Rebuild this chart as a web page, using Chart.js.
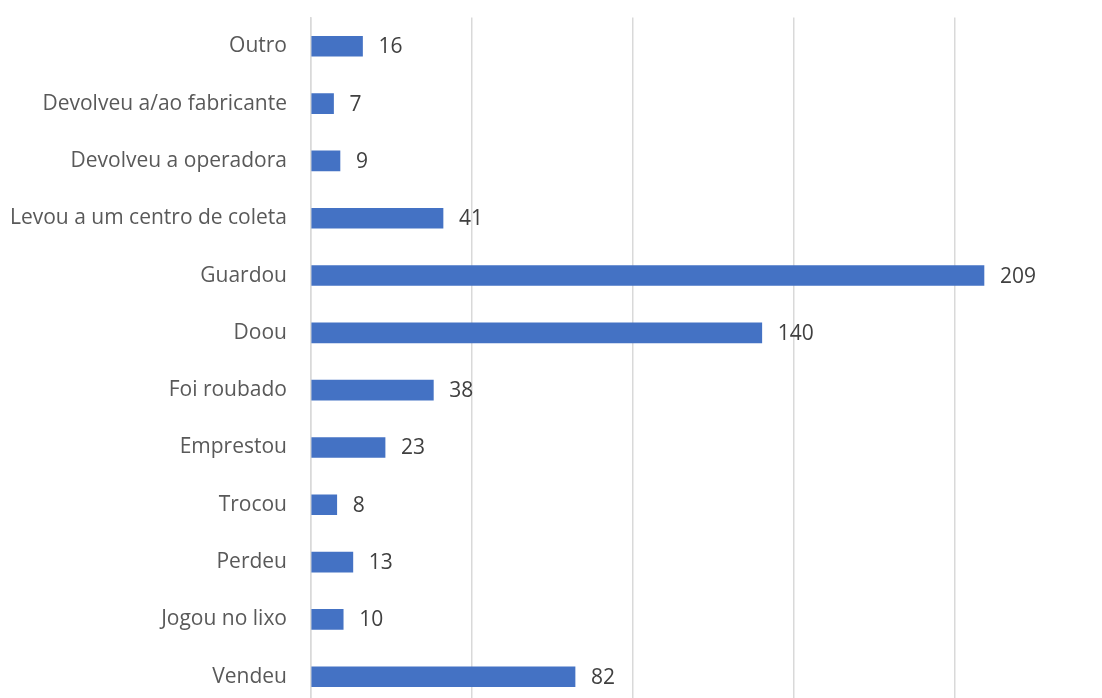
<!DOCTYPE html>
<html>
<head>
<meta charset="utf-8">
<script src="https://cdn.jsdelivr.net/npm/chart.js@4.4.0/dist/chart.umd.min.js"></script>
<style>
  html, body { margin: 0; padding: 0; background: #fff; overflow: hidden; }
  #wrap { width: 1102px; height: 698px; overflow: hidden; position: relative; }
  #box { position: absolute; left: 0; top: -19px; width: 1120px; height: 761px; }
</style>
</head>
<body>
<div id="wrap"><div id="box"><canvas id="chart"></canvas></div></div>
<script>
// Destinos do aparelho antigo (respostas)
const categorias = ['Outro', 'Devolveu a/ao fabricante', 'Devolveu a operadora', 'Levou a um centro de coleta',
  'Guardou', 'Doou', 'Foi roubado', 'Emprestou', 'Trocou', 'Perdeu', 'Jogou no lixo', 'Vendeu'];
const respostas = [16, 7, 9, 41, 209, 140, 38, 23, 8, 13, 10, 82];

const FONTE = "'Open Sans', sans-serif";

// escreve o valor logo depois do fim de cada barra
const rotulosValor = {
  id: 'rotulosValor',
  afterDatasetsDraw(chart) {
    const ctx = chart.ctx;
    const meta = chart.getDatasetMeta(0);
    ctx.save();
    ctx.font = '21px ' + FONTE;
    ctx.fillStyle = '#404040';
    ctx.textAlign = 'left';
    ctx.textBaseline = 'middle';
    meta.data.forEach((bar, i) => {
      ctx.fillText(String(respostas[i]), bar.x + 16, bar.y + 1);
    });
    ctx.restore();
  }
};

new Chart(document.getElementById('chart'), {
  type: 'bar',
  data: {
    labels: categorias,
    datasets: [{
      data: respostas,
      backgroundColor: '#4472C4',
      barThickness: 20
    }]
  },
  options: {
    indexAxis: 'y',
    responsive: true,
    maintainAspectRatio: false,
    animation: false,
    layout: { padding: { top: 15, right: 4, left: 0, bottom: 0 } },
    plugins: { legend: { display: false }, tooltip: { enabled: false } },
    scales: {
      x: {
        min: 0,
        max: 250,
        ticks: { display: false, stepSize: 50 },
        grid: { color: '#d9d9d9', lineWidth: 1.5, drawTicks: false },
        border: { display: false },
        afterFit(s) { s.height = 0; }
      },
      y: {
        grid: { display: false, drawTicks: false },
        border: { display: true, color: '#d9d9d9', width: 1.5 },
        ticks: { color: '#595959', padding: 24, font: { family: FONTE, size: 21 } },
        afterFit(s) { s.width = 311; }
      }
    }
  },
  plugins: [rotulosValor]
});
</script>
</body>
</html>
